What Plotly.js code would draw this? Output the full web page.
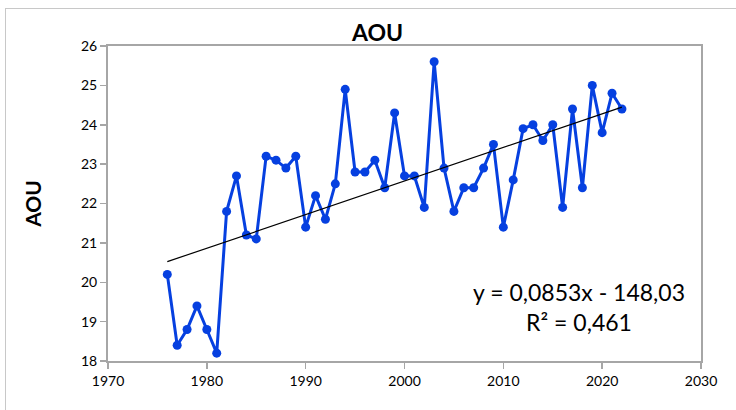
<!DOCTYPE html>
<html>
<head>
<meta charset="utf-8">
<script src="https://cdn.plot.ly/plotly-3.0.1.min.js"></script>
<style>
html,body{margin:0;padding:0;background:#fff;}
#wrap{position:relative;width:736px;height:410px;overflow:hidden;}
#frame{position:absolute;left:5px;top:8px;width:740px;height:410px;border:1px solid #c8c8c8;box-sizing:border-box;}
#chart{position:absolute;left:0;top:0;width:736px;height:410px;}
</style>
</head>
<body>
<div id="wrap"><div id="frame"></div><div id="chart"></div></div>
<script>
const years = [1976,1977,1978,1979,1980,1981,1982,1983,1984,1985,1986,1987,1988,1989,1990,1991,1992,1993,1994,1995,1996,1997,1998,1999,2000,2001,2002,2003,2004,2005,2006,2007,2008,2009,2010,2011,2012,2013,2014,2015,2016,2017,2018,2019,2020,2021,2022];
const aou = [20.2,18.4,18.8,19.4,18.8,18.2,21.8,22.7,21.2,21.1,23.2,23.1,22.9,23.2,21.4,22.2,21.6,22.5,24.9,22.8,22.8,23.1,22.4,24.3,22.7,22.7,21.9,25.6,22.9,21.8,22.4,22.4,22.9,23.5,21.4,22.6,23.9,24.0,23.6,24.0,21.9,24.4,22.4,25.0,23.8,24.8,24.4];
const trendSlope = 0.0853;
const trendIntercept = -148.03;
const xTicks = [1970,1980,1990,2000,2010,2020,2030];
const yTicks = [18,19,20,21,22,23,24,25,26];

const tx = [years[0], years[years.length-1]];
const ty = tx.map(x => trendSlope*x + trendIntercept);

const font = "Lato, 'Open Sans', sans-serif";
const traces = [
  {x: years, y: aou, type:'scatter', mode:'lines+markers',
   line:{color:'#0640e0', width:3}, marker:{color:'#0640e0', size:9}, hoverinfo:'x+y'},
  {x: tx, y: ty, type:'scatter', mode:'lines', line:{color:'#000', width:1.2}, hoverinfo:'skip'}
];
const layout = {
  width:736, height:410,
  margin:{l:108, r:35, t:46, b:49},
  paper_bgcolor:'rgba(0,0,0,0)', plot_bgcolor:'#fff',
  showlegend:false,
  title:{text:'<b>AOU</b>', x:0.513, xanchor:'center', y:0.92, yanchor:'middle', font:{family:font, size:23, color:'#000'}},
  xaxis:{range:[1970,2030], tickvals:xTicks, ticktext:xTicks.map(String), showgrid:false, zeroline:false,
    showline:true, linecolor:'#a6a6a6', linewidth:2, mirror:true, ticks:'outside', ticklen:6, tickcolor:'#a6a6a6', tickwidth:1.5,
    tickfont:{family:font, size:14, color:'#000'}},
  yaxis:{range:[18,26], tickvals:yTicks, showgrid:false, zeroline:false,
    showline:true, linecolor:'#a6a6a6', linewidth:2, mirror:true, ticks:'outside', ticklen:6, tickcolor:'#a6a6a6', tickwidth:1.5,
    tickfont:{family:font, size:14, color:'#000'},
    title:{text:'<b>AOU</b>', font:{family:font, size:21, color:'#000'}, standoff:34}},
  annotations:[
    {xref:'paper', yref:'paper', x:0.795, y:0.17, xanchor:'center', yanchor:'middle', showarrow:false, align:'center',
     text:'y = 0,0853x - 148,03<br>R² = 0,461', font:{family:font, size:23, color:'#000'}}
  ]
};
Plotly.newPlot('chart', traces, layout, {displayModeBar:false, staticPlot:true});
</script>
</body>
</html>
